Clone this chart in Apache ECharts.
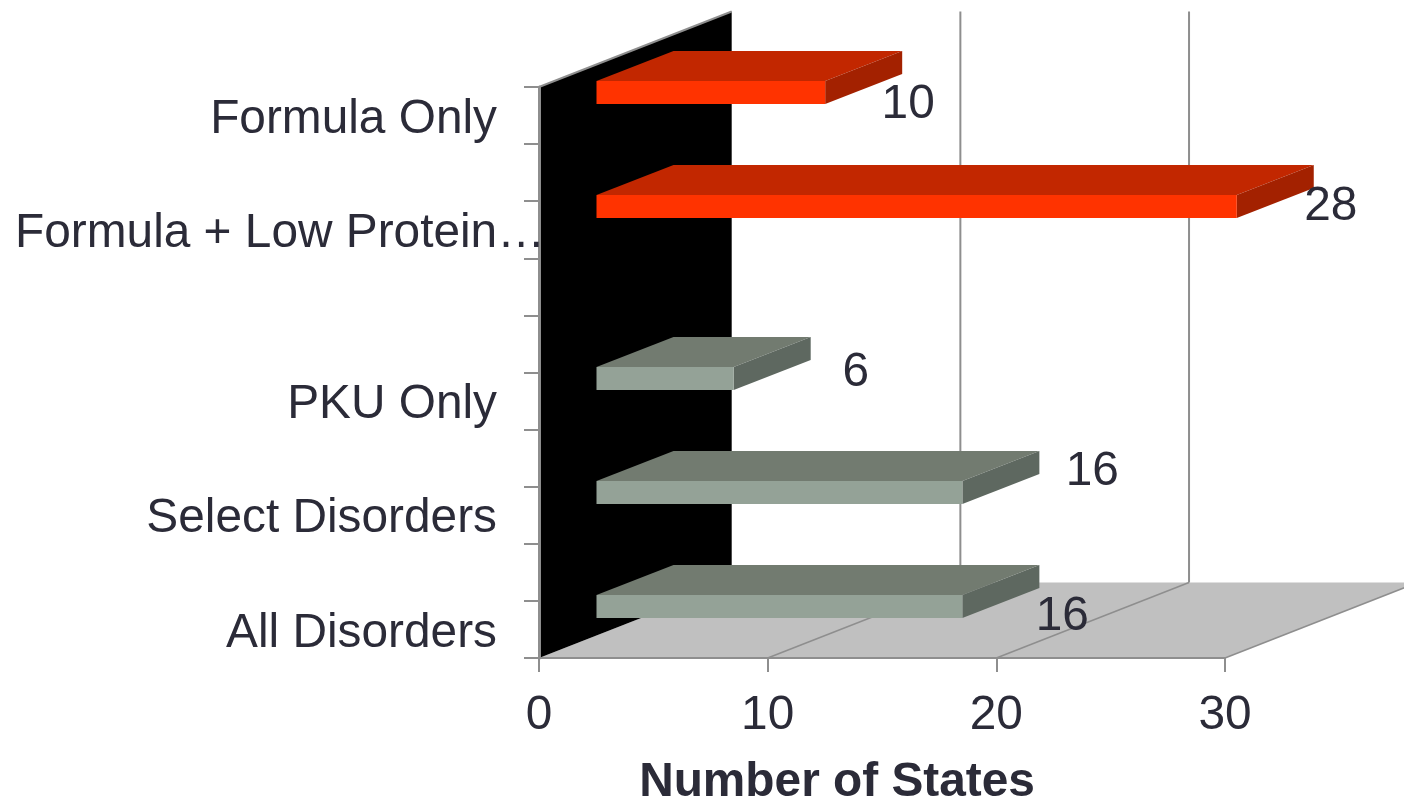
<!DOCTYPE html>
<html>
<head>
<meta charset="utf-8">
<style>html,body{margin:0;padding:0;background:#fff}#chart{width:1404px;height:799px}</style>
<script src="https://cdn.jsdelivr.net/npm/echarts@6/dist/echarts.min.js"></script>
</head>
<body>
<div id="chart"></div>
<script>
// Rows run bottom to top; empty names are spacer rows on the category axis.
const rowNames = ['All Disorders', '', 'Select Disorders', '', 'PKU Only', '', '', 'Formula + Low Protein…', '', 'Formula Only'];
const screeningValues = [16, null, 16, null, 6, null, null, null, null, null];
const treatmentValues = [null, null, null, null, null, null, null, 28, null, 10];
const stateTicks = [0, 10, 20, 30];

// Value label placement, relative to the bar end and row centre.
const labelNudges = { 0: [100, -13], 2: [130, -43], 4: [122, -28], 7: [94, -23], 9: [83, -11] };

const INK = '#2b2b38';
const RULE = '#8e8e8e';
const FONT = '"Liberation Sans", Arial, sans-serif';
const FONT_SIZE = 47.8;

// Oblique projection used by the pseudo-3D walls and bars.
const ROOM_DEPTH = [192.7, -75.5];
const BAR_DEPTH = [77, -30];
const BAR_SHIFT = [57.5, -34.5];
const BAR_THICKNESS = 23;

const toPairs = values => values.map((v, i) => (v === null ? [null, i] : [v, i]));
const shade = (p, dx, dy) => [p[0] + dx, p[1] + dy];

function poly(points, fill, stroke, width) {
  return { type: 'polygon', shape: { points }, style: { fill, stroke: stroke || null, lineWidth: width || 0 } };
}
function line(a, b, width) {
  return { type: 'line', shape: { x1: a[0], y1: a[1], x2: b[0], y2: b[1] }, style: { stroke: RULE, lineWidth: width } };
}

// Side wall, floor and receding gridlines, all derived from the grid rectangle and ticks.
function renderRoom(params, api) {
  const last = rowNames.length - 1;
  const band = api.size([0, 1])[1];
  const origin = api.coord([0, 0]);
  const bottom = origin[1] + band / 2;
  const top = api.coord([0, last])[1] - band / 2;
  const right = api.coord([stateTicks[stateTicks.length - 1], 0])[0];
  const [ddx, ddy] = ROOM_DEPTH;
  const children = [
    poly([[right, bottom], [right + ddx, bottom + ddy], [origin[0] + ddx, bottom + ddy], [origin[0], bottom]], '#c0c0c0'),
    poly([[origin[0], top], [origin[0] + ddx, top + ddy], [origin[0] + ddx, bottom + ddy], [origin[0], bottom]], '#000000'),
    line([origin[0], top], [origin[0] + ddx, top + ddy], 2)
  ];
  stateTicks.slice(1).forEach(t => {
    const x = api.coord([t, 0])[0];
    children.push(line([x, bottom], [x + ddx, bottom + ddy], 1.5));
    children.push(line([x + ddx, bottom + ddy], [x + ddx, top + ddy], 2));
  });
  return { type: 'group', children };
}

// One extruded bar: side and top faces behind a flat front face, plus its value label.
function barRenderer(front, topFace, sideFace) {
  return function (params, api) {
    const value = api.value(0);
    const row = api.value(1);
    if (value === null || isNaN(value)) return null;
    const end = api.coord([value, row]);
    const start = api.coord([0, row]);
    const y0 = Math.round(end[1] + BAR_SHIFT[1]);
    const x0 = start[0] + BAR_SHIFT[0];
    const x1 = end[0] + BAR_SHIFT[0];
    const y1 = y0 + BAR_THICKNESS;
    const [bx, by] = BAR_DEPTH;
    const nudge = labelNudges[row];
    return {
      type: 'group',
      children: [
        poly([[x0, y0], shade([x0, y0], bx, by), shade([x1, y0], bx, by), [x1, y0]], topFace),
        poly([[x1, y0], shade([x1, y0], bx, by), shade([x1, y1], bx, by), [x1, y1]], sideFace),
        poly([[x0, y0], [x1, y0], [x1, y1], [x0, y1]], front),
        {
          type: 'text',
          z2: 10,
          style: {
            x: x1 + nudge[0], y: end[1] + nudge[1],
            text: String(value), fill: INK, font: FONT_SIZE + 'px ' + FONT,
            align: 'center', verticalAlign: 'middle'
          }
        }
      ]
    };
  };
}

const chart = echarts.init(document.getElementById('chart'), null, { renderer: 'canvas' });
chart.setOption({
  animation: false,
  backgroundColor: '#ffffff',
  grid: { left: 539, top: 87, width: 686, height: 571, containLabel: false, outerBoundsMode: 'none' },
  xAxis: {
    type: 'value', min: 0, max: 30, interval: 10, z: 3,
    splitLine: { show: false },
    axisLine: { show: true, onZero: false, lineStyle: { color: RULE, width: 2 } },
    axisTick: { show: true, length: 14, lineStyle: { color: RULE, width: 2 } },
    axisLabel: { color: INK, fontFamily: FONT, fontSize: FONT_SIZE, margin: 34 },
    name: 'Number of States',
    nameLocation: 'middle',
    nameGap: 101,
    nameTextStyle: { color: INK, fontFamily: FONT, fontSize: FONT_SIZE, fontWeight: 'bold', padding: [0, 90, 0, 0] }
  },
  yAxis: {
    type: 'category', data: rowNames, z: 3,
    axisLine: { show: true, lineStyle: { color: RULE, width: 3 } },
    axisTick: { show: true, length: 15, lineStyle: { color: RULE, width: 2 } },
    axisLabel: {
      interval: 0, margin: -6, color: INK, fontFamily: FONT, fontSize: FONT_SIZE,
      formatter: name => (name.endsWith('…') ? '{wide|' + name + '}' : name ? '{std|' + name + '}' : ''),
      rich: {
        std: { color: INK, fontFamily: FONT, fontSize: FONT_SIZE, padding: [8, 48, 0, 0] },
        wide: { color: INK, fontFamily: FONT, fontSize: FONT_SIZE, padding: [8, 0, 0, 0] }
      }
    }
  },
  series: [
    {
      type: 'custom', name: 'Room', z: 1, clip: false, silent: true,
      coordinateSystem: 'cartesian2d', encode: { x: 0, y: 1 },
      data: [[0, 0]], renderItem: renderRoom
    },
    {
      type: 'custom', name: 'Screening', z: 5, clip: false,
      coordinateSystem: 'cartesian2d', encode: { x: 0, y: 1 },
      data: toPairs(screeningValues),
      renderItem: barRenderer('#94a297', '#727b70', '#5e6860')
    },
    {
      type: 'custom', name: 'Treatment', z: 5, clip: false,
      coordinateSystem: 'cartesian2d', encode: { x: 0, y: 1 },
      data: toPairs(treatmentValues),
      renderItem: barRenderer('#ff3300', '#c22700', '#a32100')
    }
  ]
});
</script>
</body>
</html>
